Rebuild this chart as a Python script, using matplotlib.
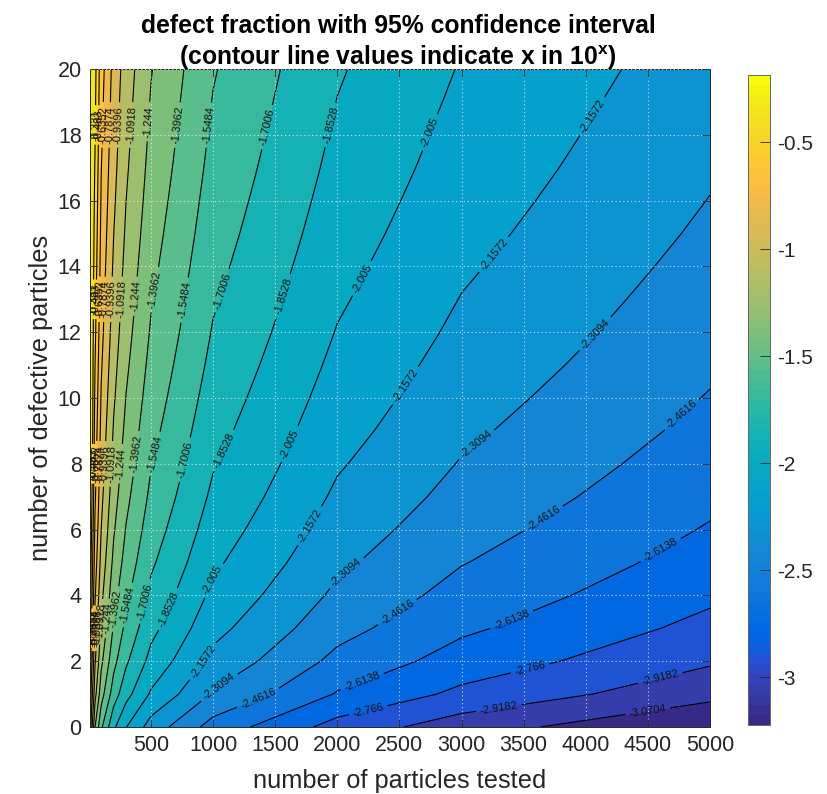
import numpy as np
import matplotlib
matplotlib.use('Agg')
import matplotlib.pyplot as plt
from matplotlib.colors import ListedColormap, Normalize
from matplotlib.cm import ScalarMappable

plt.rcParams['font.family'] = 'Liberation Sans'
plt.rcParams['axes.unicode_minus'] = False
plt.rcParams['mathtext.fontset'] = 'custom'
plt.rcParams['mathtext.bf'] = 'Liberation Sans:bold'

# number of particles tested / number of defective particles
tested = [10, 20, 50, 100, 200, 300, 500, 1000, 2000, 3000, 5000]
defective = list(range(21))

# log10 of the defect fraction, one list per column of tested
z_10 = [-0.59, -0.42, -0.30, -0.22, -0.19, -0.19, -0.19, -0.19, -0.19, -0.19, -0.19, -0.19, -0.19, -0.19, -0.19, -0.19, -0.19, -0.19, -0.19, -0.19, -0.19]
z_20 = [-0.84, -0.67, -0.55, -0.46, -0.40, -0.35, -0.30, -0.26, -0.22, -0.19, -0.19, -0.19, -0.19, -0.19, -0.19, -0.19, -0.19, -0.19, -0.19, -0.19, -0.19]
z_50 = [-1.24, -1.04, -0.92, -0.84, -0.77, -0.71, -0.66, -0.61, -0.575, -0.54, -0.51, -0.48, -0.45, -0.43, -0.40, -0.38, -0.36, -0.34, -0.32, -0.30, -0.285]
z_100 = [-1.52, -1.33, -1.21, -1.12, -1.05, -0.99, -0.94, -0.90, -0.86, -0.83, -0.80, -0.77, -0.74, -0.72, -0.69, -0.67, -0.65, -0.63, -0.61, -0.59, -0.57]
z_200 = [-1.824, -1.625, -1.502, -1.412, -1.34, -1.279, -1.228, -1.182, -1.142, -1.105, -1.072, -1.041, -1.012, -0.986, -0.961, -0.937, -0.915, -0.894, -0.875, -0.856, -0.838]
z_300 = [-2.0, -1.801, -1.678, -1.588, -1.516, -1.455, -1.404, -1.358, -1.318, -1.281, -1.248, -1.217, -1.188, -1.162, -1.137, -1.113, -1.091, -1.07, -1.051, -1.032, -1.014]
z_500 = [-2.222, -2.023, -1.9, -1.81, -1.738, -1.677, -1.626, -1.58, -1.54, -1.503, -1.47, -1.439, -1.41, -1.384, -1.359, -1.335, -1.313, -1.292, -1.273, -1.254, -1.236]
z_1000 = [-2.523, -2.324, -2.201, -2.111, -2.039, -1.978, -1.927, -1.881, -1.841, -1.804, -1.771, -1.74, -1.711, -1.685, -1.66, -1.636, -1.614, -1.593, -1.574, -1.555, -1.537]
z_2000 = [-2.824, -2.625, -2.502, -2.412, -2.34, -2.279, -2.228, -2.182, -2.142, -2.105, -2.072, -2.041, -2.012, -1.986, -1.961, -1.937, -1.915, -1.894, -1.875, -1.856, -1.838]
z_3000 = [-3.0, -2.801, -2.678, -2.588, -2.516, -2.455, -2.404, -2.358, -2.318, -2.281, -2.248, -2.217, -2.188, -2.162, -2.137, -2.113, -2.091, -2.07, -2.051, -2.032, -2.014]
z_5000 = [-3.222, -3.023, -2.9, -2.81, -2.738, -2.677, -2.626, -2.58, -2.54, -2.503, -2.47, -2.439, -2.41, -2.384, -2.359, -2.335, -2.313, -2.292, -2.273, -2.254, -2.236]

levels = [-3.2226, -3.0704, -2.9182, -2.766, -2.6138, -2.4616, -2.3094, -2.1572, -2.005, -1.8528,
          -1.7006, -1.5484, -1.3962, -1.244, -1.0918, -0.9396, -0.7874, -0.6352, -0.483, -0.331, -0.17]

cbar_ticks = [-3, -2.5, -2, -1.5, -1, -0.5]
cbar_labels = ['-3', '-2.5', '-2', '-1.5', '-1', '-0.5']

# where the contour labels sit, level: (tested, defective)
label_spots = {
    -3.0704: [(4500, 0.5)],
    -2.9182: [(3300, 0.6), (4600, 1.5)],
    -2.766: [(2250, 0.5), (3550, 1.8)],
    -2.6138: [(2200, 1.4), (3400, 3.3), (4600, 5.4)],
    -2.4616: [(1350, 1.0), (2500, 3.4), (3650, 6.4), (4750, 9.6)],
    -2.3094: [(1050, 1.2), (2050, 4.8), (2990, 9.2), (4170, 11.6)],
    -2.1572: [(920, 2.0), (1740, 6.2), (2540, 10.4), (3280, 14.3), (4080, 18.5)],
    -2.005: [(975, 4.5), (1560, 8.7), (2070, 13.9), (2730, 18.1)],
    -1.8528: [(630, 3.6), (1090, 8.4), (1480, 13.2), (1950, 18.3)],
    -1.7006: [(470, 3.8), (800, 8.1), (1040, 13.3), (1360, 18.3)],
    -1.5484: [(320, 3.7), (530, 8.3), (730, 13.0), (958, 18.3)],
    -1.3962: [(195, 3.6), (390, 8.3), (515, 13.3), (700, 18.3)],
    -1.244: [(150, 3.3), (265, 8.0), (363, 13.1), (483, 18.4)],
    -1.0918: [(110, 3.2), (178, 8.0), (256, 13.0), (335, 18.3)],
    -0.9396: [(80, 3.0), (125, 8.0), (180, 13.0), (235, 18.3)],
    -0.7874: [(55, 3.0), (88, 8.0), (127, 13.0), (165, 18.3)],
    -0.6352: [(36, 3.0), (62, 8.0), (89, 13.0), (116, 18.3)],
    -0.483: [(24, 3.0), (44, 8.0), (63, 13.0), (82, 18.3)],
    -0.331: [(31, 8.0), (45, 13.0), (58, 18.3)],
}

# parula, 64 steps
parula = [
    [0.2081, 0.1663, 0.5292], [0.2116, 0.1898, 0.5777], [0.2123, 0.2138, 0.6270], [0.2081, 0.2386, 0.6771],
    [0.1959, 0.2645, 0.7279], [0.1707, 0.2919, 0.7792], [0.1253, 0.3242, 0.8303], [0.0591, 0.3598, 0.8683],
    [0.0117, 0.3875, 0.8820], [0.0060, 0.4086, 0.8828], [0.0165, 0.4266, 0.8786], [0.0329, 0.4430, 0.8720],
    [0.0498, 0.4586, 0.8641], [0.0629, 0.4737, 0.8554], [0.0723, 0.4887, 0.8467], [0.0779, 0.5040, 0.8384],
    [0.0793, 0.5200, 0.8312], [0.0749, 0.5375, 0.8263], [0.0641, 0.5570, 0.8240], [0.0488, 0.5772, 0.8228],
    [0.0343, 0.5966, 0.8199], [0.0265, 0.6137, 0.8135], [0.0239, 0.6287, 0.8038], [0.0231, 0.6418, 0.7913],
    [0.0228, 0.6535, 0.7768], [0.0267, 0.6642, 0.7607], [0.0384, 0.6743, 0.7436], [0.0590, 0.6838, 0.7254],
    [0.0843, 0.6928, 0.7062], [0.1133, 0.7015, 0.6859], [0.1453, 0.7098, 0.6646], [0.1801, 0.7177, 0.6424],
    [0.2178, 0.7250, 0.6193], [0.2586, 0.7317, 0.5954], [0.3022, 0.7376, 0.5712], [0.3482, 0.7424, 0.5473],
    [0.3953, 0.7459, 0.5244], [0.4420, 0.7481, 0.5033], [0.4871, 0.7491, 0.4840], [0.5300, 0.7491, 0.4661],
    [0.5709, 0.7485, 0.4494], [0.6099, 0.7473, 0.4337], [0.6473, 0.7456, 0.4188], [0.6834, 0.7435, 0.4044],
    [0.7184, 0.7411, 0.3905], [0.7525, 0.7384, 0.3768], [0.7858, 0.7356, 0.3633], [0.8185, 0.7327, 0.3498],
    [0.8507, 0.7299, 0.3360], [0.8824, 0.7274, 0.3217], [0.9139, 0.7258, 0.3063], [0.9450, 0.7261, 0.2886],
    [0.9739, 0.7314, 0.2666], [0.9938, 0.7455, 0.2403], [0.9990, 0.7653, 0.2164], [0.9955, 0.7861, 0.1967],
    [0.9880, 0.8066, 0.1794], [0.9789, 0.8271, 0.1633], [0.9697, 0.8481, 0.1475], [0.9626, 0.8705, 0.1309],
    [0.9589, 0.8949, 0.1132], [0.9598, 0.9218, 0.0948], [0.9661, 0.9514, 0.0755], [0.9763, 0.9831, 0.0538]]

cmap = ListedColormap(parula)
norm = Normalize(-3.2226, -0.187)
dark = '#262626'
W, H = 828, 794

z = np.array([z_10, z_20, z_50, z_100, z_200, z_300, z_500, z_1000, z_2000, z_3000, z_5000]).T

fig = plt.figure(figsize=(W / 100, H / 100), dpi=100)
ax = fig.add_axes([90 / W, (H - 727) / H, 620 / W, 658 / H])

band_colors = [cmap(norm(l)) for l in levels[:-1]]
ax.contourf(tested, defective, z, levels=levels, colors=band_colors)

# one contour set per level, so each label goes on its own line
for lev, spots in label_spots.items():
    cs = ax.contour(tested, defective, z, levels=[lev], colors='black', linewidths=0.8, linestyles='solid')
    cs.clabel(manual=spots, fmt=lambda v: f'{v:.5g}', fontsize=8, colors='#111111',
              inline=True, inline_spacing=4)

ax.set_xlim(10, 5000)
ax.set_ylim(0, 20)
ax.set_xticks(range(500, 5001, 500))
ax.set_yticks(range(0, 21, 2))
ax.tick_params(direction='in', top=True, right=True, length=6, width=0.6, color=dark,
               labelsize=15.5, labelcolor=dark, pad=6)
ax.grid(True, color='white', linestyle=(0, (1, 2.5)), linewidth=0.8, alpha=0.75)
ax.set_axisbelow(False)
for s in ax.spines.values():
    s.set_linewidth(0.7)
    s.set_color(dark)

ax.set_xlabel('number of particles tested', fontsize=18.3, color=dark, labelpad=9)
ax.set_ylabel('number of defective particles', fontsize=18.3, color=dark, labelpad=3)
ax.set_title('defect fraction with 95% confidence interval\n(contour line values indicate x in 10$^{\\mathbf{x}}$)',
             fontsize=17.8, fontweight='bold', color='black', pad=3, linespacing=1.22, x=0.497)

cax = fig.add_axes([748 / W, (H - 725) / H, 22 / W, 650 / H])
cb = fig.colorbar(ScalarMappable(norm=norm, cmap=cmap), cax=cax)
cb.set_ticks(cbar_ticks)
cb.set_ticklabels(cbar_labels)
cax.tick_params(direction='in', length=7, width=0.6, color=dark, labelsize=15, labelcolor=dark, pad=5)
cb.outline.set_linewidth(0.7)
cb.outline.set_edgecolor('#666666')

fig.savefig('out.png', dpi=100)
